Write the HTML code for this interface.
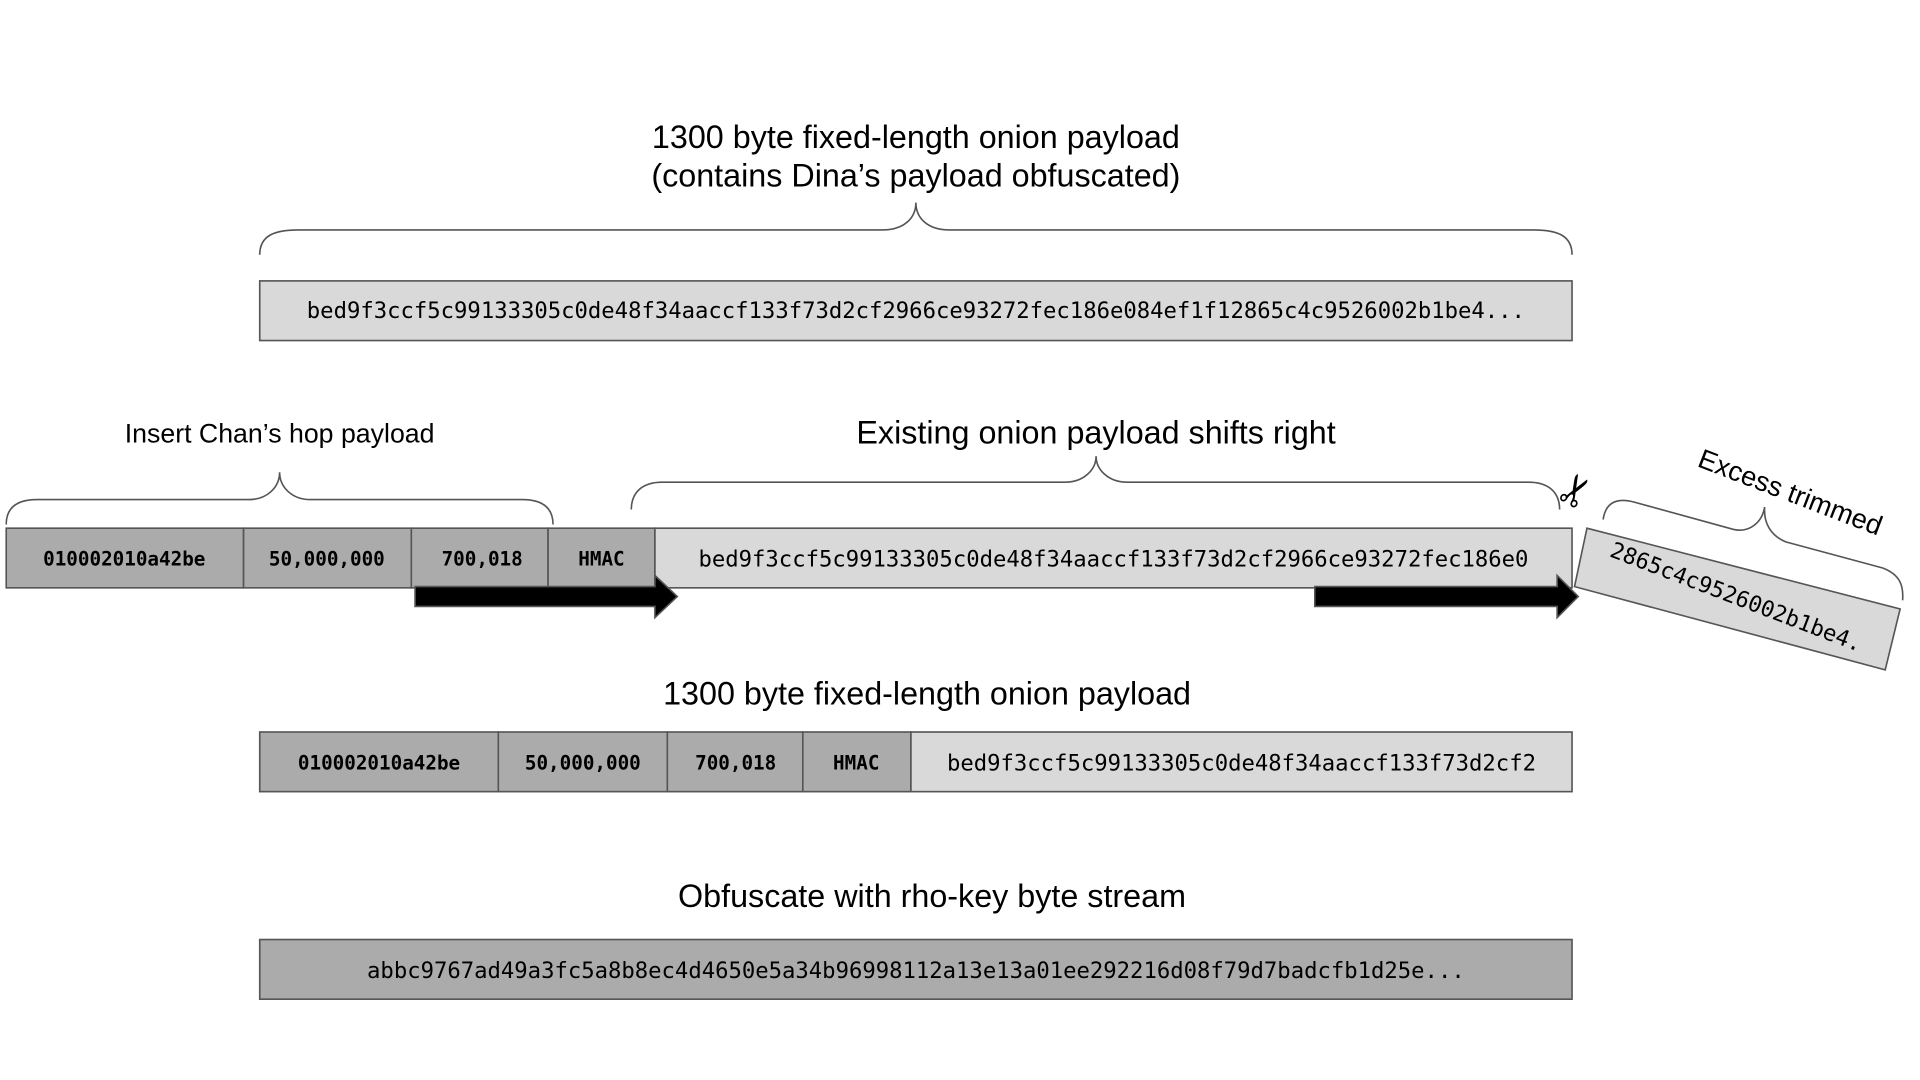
<!DOCTYPE html>
<html><head><meta charset="utf-8"><style>html,body{margin:0;padding:0;background:#fff}svg{display:block}</style></head>
<body>
<svg width="1920" height="1080" viewBox="0 0 1545 869" xmlns="http://www.w3.org/2000/svg">
<rect width="1545" height="869" fill="#fff"/>
<g font-family="Liberation Sans, sans-serif" fill="#000" text-anchor="middle">
<text x="737" y="119" font-size="26">1300 byte fixed-length onion payload</text>
<text x="737" y="150" font-size="26">(contains Dina’s payload obfuscated)</text>
<text x="225" y="356" font-size="21.5">Insert Chan’s hop payload</text>
<text x="882" y="357" font-size="26">Existing onion payload shifts right</text>
<text x="746" y="567" font-size="26">1300 byte fixed-length onion payload</text>
<text x="750" y="730" font-size="26">Obfuscate with rho-key byte stream</text>
<text transform="translate(1438,403) rotate(21)" font-size="22">Excess trimmed</text>
</g>
<g fill="none" stroke="#555" stroke-width="1.3">
<path d="M209,205 C209,190 220,185 240,185 L710,185 C728,185 737,175 737,163 C737,175 746,185 764,185 L1234,185 C1254,185 1265,190 1265,205"/>
<path d="M5,422 C5,408 14,402 30,402 L200,402 C215,402 225,392 225,380 C225,392 235,402 250,402 L420,402 C436,402 445,408 445,422"/>
<path d="M508,410 C508,396 517,388 533,388 L857,388 C872,388 882,378 882,367 C882,378 892,388 907,388 L1230,388 C1246,388 1255,396 1255,410"/>
<path d="M1290,418 C1292,405 1300,400 1315,404 L1395,426 C1408,429 1418,420 1420,408 C1419,421 1425,431 1437,436 L1515,457 C1528,462 1532,470 1531,483"/>
</g>
<g stroke="#555" stroke-width="1.3" font-family="DejaVu Sans Mono, monospace" font-size="17.9">
<rect x="209" y="226" width="1056" height="48" fill="#d9d9d9"/>
<text x="737" y="256" text-anchor="middle" stroke="none">bed9f3ccf5c99133305c0de48f34aaccf133f73d2cf2966ce93272fec186e084ef1f12865c4c9526002b1be4...</text>
<rect x="5" y="425" width="191" height="48" fill="#ababab"/>
<rect x="196" y="425" width="135" height="48" fill="#ababab"/>
<rect x="331" y="425" width="110" height="48" fill="#ababab"/>
<rect x="441" y="425" width="86" height="48" fill="#ababab"/>
<rect x="527" y="425" width="738" height="48" fill="#d9d9d9"/>
<g stroke="none" text-anchor="middle" font-weight="bold" font-size="15.5">
<text x="100" y="455">010002010a42be</text>
<text x="263" y="455">50,000,000</text>
<text x="388" y="455">700,018</text>
<text x="484" y="455">HMAC</text>
</g>
<text x="896" y="456" text-anchor="middle" stroke="none">bed9f3ccf5c99133305c0de48f34aaccf133f73d2cf2966ce93272fec186e0</text>
<path d="M334,472 L527,472 L527,463 L545,480 L527,497 L527,488 L334,488 Z" fill="#000"/>
<path d="M1058,472 L1253,472 L1253,463 L1270,480 L1253,497 L1253,488 L1058,488 Z" fill="#000"/>
<polygon points="1277,425 1529,490 1517,539 1267,472" fill="#d9d9d9"/>
<text transform="translate(1395,486) rotate(21)" text-anchor="middle" stroke="none">2865c4c9526002b1be4.</text>
<rect x="209" y="589" width="192" height="48" fill="#ababab"/>
<rect x="401" y="589" width="136" height="48" fill="#ababab"/>
<rect x="537" y="589" width="109" height="48" fill="#ababab"/>
<rect x="646" y="589" width="87" height="48" fill="#ababab"/>
<rect x="733" y="589" width="532" height="48" fill="#d9d9d9"/>
<g stroke="none" text-anchor="middle" font-weight="bold" font-size="15.5">
<text x="305" y="619">010002010a42be</text>
<text x="469" y="619">50,000,000</text>
<text x="592" y="619">700,018</text>
<text x="689" y="619">HMAC</text>
</g>
<text x="999" y="620" text-anchor="middle" stroke="none">bed9f3ccf5c99133305c0de48f34aaccf133f73d2cf2</text>
<rect x="209" y="756" width="1056" height="48" fill="#ababab"/>
<text x="737" y="787" text-anchor="middle" stroke="none">abbc9767ad49a3fc5a8b8ec4d4650e5a34b96998112a13e13a01ee292216d08f79d7badcfb1d25e...</text>
</g>
<text transform="translate(1270,396) rotate(-60)" font-size="34" font-weight="bold" text-anchor="middle" font-family="DejaVu Sans, sans-serif" dominant-baseline="middle">✂</text>
</svg>
</body></html>
